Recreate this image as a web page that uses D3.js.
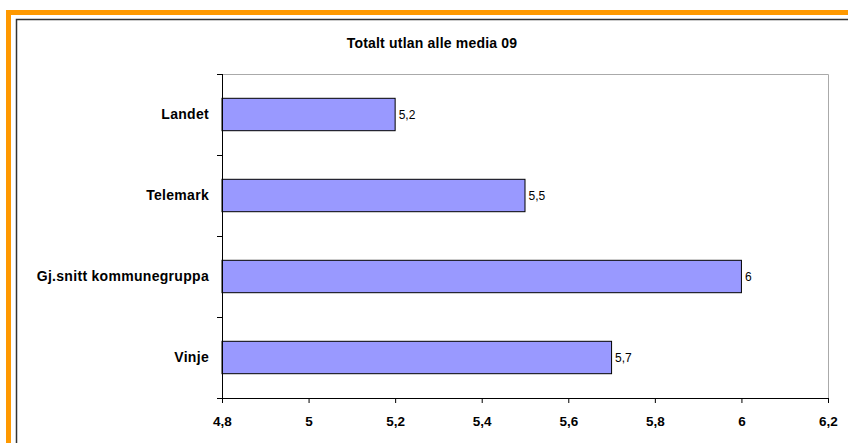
<!DOCTYPE html>
<html>
<head>
<meta charset="utf-8">
<script src="https://cdn.jsdelivr.net/npm/d3@7"></script>
<style>
  body { margin: 0; background: #fff; }
  text { font-family: "Liberation Sans", Arial, sans-serif; }
</style>
</head>
<body>
<svg id="chart"></svg>
<script>
const categories = ["Landet", "Telemark", "Gj.snitt kommunegruppa", "Vinje"];
const values = [5.2, 5.5, 6, 5.7];
const valueLabels = ["5,2", "5,5", "6", "5,7"];
const xTicks = [4.8, 5, 5.2, 5.4, 5.6, 5.8, 6, 6.2];
const chartTitle = "Totalt utlan alle media 09";

const width = 848, height = 443;
const marginTop = 74, marginLeft = 222, plotRight = 828, plotBottom = 398;

const svg = d3.select("#chart")
  .attr("width", width)
  .attr("height", height)
  .attr("viewBox", [0, 0, width, height]);

// outer orange frame + inner dark frame (cut off at right/bottom)
svg.append("rect")
  .attr("x", 8.5).attr("y", 12.5)
  .attr("width", 900).attr("height", 500)
  .attr("fill", "none").attr("stroke", "#ff9900").attr("stroke-width", 5);
svg.append("rect")
  .attr("x", 16.5).attr("y", 19.5)
  .attr("width", 900).attr("height", 500)
  .attr("fill", "none").attr("stroke", "#333").attr("stroke-width", 1.5);

const x = d3.scaleLinear().domain([4.8, 6.2]).range([marginLeft, plotRight]);
const y = d3.scaleBand().domain(categories).range([marginTop, plotBottom]).paddingInner(0.6).paddingOuter(0.3);

// plot area border, top and right in gray
svg.append("path")
  .attr("d", `M${marginLeft},${marginTop + 0.5}H${plotRight + 0.5}V${plotBottom}`)
  .attr("fill", "none").attr("stroke", "#aaa").attr("stroke-width", 1);

svg.append("g")
  .selectAll("rect")
  .data(values)
  .join("rect")
  .attr("x", x(4.8))
  .attr("y", (d, i) => y(categories[i]))
  .attr("width", d => x(d) - x(4.8))
  .attr("height", y.bandwidth())
  .attr("fill", "#9999ff")
  .attr("stroke", "#000")
  .attr("stroke-width", 1);

svg.append("g")
  .selectAll("text")
  .data(values)
  .join("text")
  .attr("x", d => x(d) + 3.5)
  .attr("y", (d, i) => y(categories[i]) + y.bandwidth() / 2)
  .attr("dy", "0.35em")
  .attr("font-size", 12)
  .attr("fill", "#000")
  .text((d, i) => valueLabels[i]);

// y axis, ticks sit between categories
const bounds = d3.range(categories.length + 1).map(i => marginTop + i * y.step() / 1 - (i ? 0 : 0));
const yAxis = svg.append("g");
yAxis.append("line")
  .attr("x1", marginLeft + 0.5).attr("x2", marginLeft + 0.5)
  .attr("y1", marginTop).attr("y2", plotBottom)
  .attr("stroke", "#000");
yAxis.selectAll(".tk")
  .data(d3.range(categories.length + 1).map(i => marginTop + i * (plotBottom - marginTop) / categories.length))
  .join("line")
  .attr("class", "tk")
  .attr("x1", marginLeft - 5).attr("x2", marginLeft)
  .attr("y1", d => Math.round(d) + 0.5).attr("y2", d => Math.round(d) + 0.5)
  .attr("stroke", "#000");
yAxis.selectAll("text")
  .data(categories)
  .join("text")
  .attr("x", 209)
  .attr("y", d => y(d) + y.bandwidth() / 2)
  .attr("dy", "0.35em")
  .attr("text-anchor", "end")
  .attr("font-size", 14)
  .attr("letter-spacing", 0.3)
  .attr("font-weight", "bold")
  .text(d => d);

// x axis
const xAxis = svg.append("g")
  .attr("transform", `translate(0,${plotBottom})`)
  .call(d3.axisBottom(x).tickValues(xTicks).tickSize(5).tickSizeOuter(0)
    .tickFormat(d => d3.format("~g")(d).replace(".", ",")));
xAxis.select(".domain").attr("stroke", "#000").attr("stroke-width", 1.2);
xAxis.selectAll(".tick line").attr("stroke", "#000");
xAxis.selectAll(".tick text")
  .attr("font-family", "Liberation Sans, Arial, sans-serif")
  .attr("font-size", 13.5)
  .attr("font-weight", "bold")
  .attr("fill", "#000")
  .attr("y", 18);

svg.append("text")
  .attr("x", 432).attr("y", 48)
  .attr("text-anchor", "middle")
  .attr("font-size", 14)
  .attr("letter-spacing", 0.2)
  .attr("font-weight", "bold")
  .text(chartTitle);
</script>
</body>
</html>
